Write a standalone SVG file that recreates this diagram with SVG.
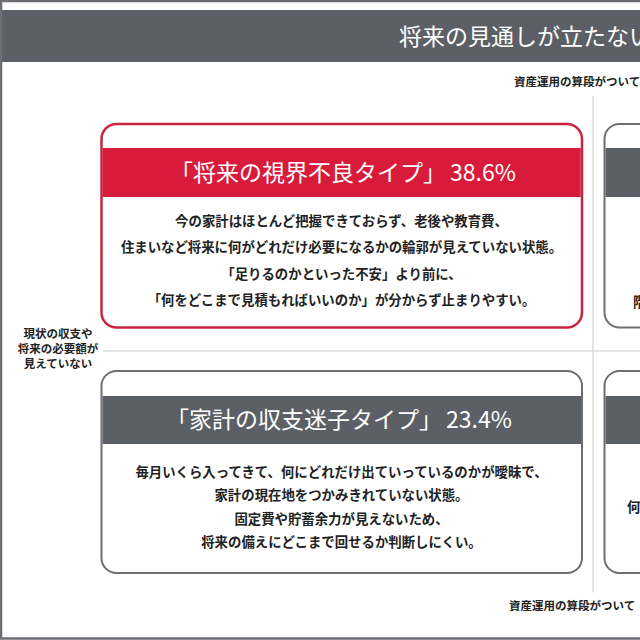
<svg xmlns="http://www.w3.org/2000/svg" width="640" height="640" viewBox="0 0 640 640">
<style>
text{font-family:"Noto Sans CJK JP","Noto Sans",sans-serif;}
.hdr{fill:#fff;font-size:23px;}
.ttl{fill:#fff;font-size:23px;}
.body{fill:#222;font-size:13.4px;font-weight:700;text-anchor:middle;}
.lbl{fill:#222;font-size:11.5px;font-weight:700;}
.axis{stroke:#dcdcdc;stroke-width:1.5;fill:none;}
.cardR{fill:#fff;stroke:#c8263f;stroke-width:2.5;}
.cardG{fill:#fff;stroke:#6e6f72;stroke-width:2;}
.bandR{fill:#d81b3b;}
.bandG{fill:#5c6066;}
</style>
<rect x="0" y="0" width="640" height="640" fill="#fff"/>
<rect x="1" y="1" width="700" height="637.5" fill="none" stroke="#6b6e72" stroke-width="2.5"/>
<g id="header">
<rect x="2" y="10" width="640" height="52" fill="#5c6066"/>
<text class="hdr" x="399" y="44.5">将来の見通しが立たない</text>
</g>
<g id="connectors">
<line class="axis" x1="593" y1="96" x2="593" y2="592"/>
<line class="axis" x1="103" y1="351" x2="640" y2="351"/>
</g>
<g id="label-top"><text class="lbl" x="514" y="86">資産運用の算段がついて</text></g>
<g id="label-bottom"><text class="lbl" x="509" y="610">資産運用の算段がついて</text></g>
<g id="label-left">
<text class="lbl" text-anchor="middle" x="58" y="338">現状の収支や</text>
<text class="lbl" text-anchor="middle" x="58" y="353">将来の必要額が</text>
<text class="lbl" text-anchor="middle" x="58" y="368">見えていない</text>
</g>
<g id="card1">
<rect class="cardR" x="101.5" y="124" width="480.5" height="203.5" rx="15"/>
<rect class="bandR" x="102.7" y="148" width="478" height="49"/>
<text class="ttl" x="170" y="181">「将来の視界不良タイプ」<tspan dx="4">38.6%</tspan></text>
<text class="body" x="341.5" y="225.5">今の家計はほとんど把握できておらず、老後や教育費、</text>
<text class="body" x="341.5" y="252">住まいなど将来に何がどれだけ必要になるかの輪郭が見えていない状態。</text>
<text class="body" x="341.5" y="278.5">「足りるのかといった不安」より前に、</text>
<text class="body" x="341.5" y="305">「何をどこまで見積もればいいのか」が分からず止まりやすい。</text>
</g>
<g id="card2">
<rect class="cardG" x="101.5" y="371" width="480.5" height="202" rx="15"/>
<rect class="bandG" x="102.5" y="396" width="478.5" height="48"/>
<text class="ttl" x="166" y="428">「家計の収支迷子タイプ」<tspan dx="4">23.4%</tspan></text>
<text class="body" x="341.5" y="476.5">毎月いくら入ってきて、何にどれだけ出ていっているのかが曖昧で、</text>
<text class="body" x="341.5" y="500">家計の現在地をつかみきれていない状態。</text>
<text class="body" x="341.5" y="523.5">固定費や貯蓄余力が見えないため、</text>
<text class="body" x="341.5" y="547">将来の備えにどこまで回せるか判断しにくい。</text>
</g>
<g id="card3">
<rect class="cardG" x="604.5" y="124" width="200" height="203.5" rx="15"/>
<rect class="bandG" x="605.5" y="148" width="200" height="49"/>
<text class="body" style="text-anchor:start" x="633" y="306.5">階</text>
</g>
<g id="card4">
<rect class="cardG" x="604.5" y="371" width="200" height="202" rx="15"/>
<rect class="bandG" x="605.5" y="396" width="200" height="48"/>
<text class="body" style="text-anchor:start" x="627" y="511.5">何</text>
</g>
</svg>
